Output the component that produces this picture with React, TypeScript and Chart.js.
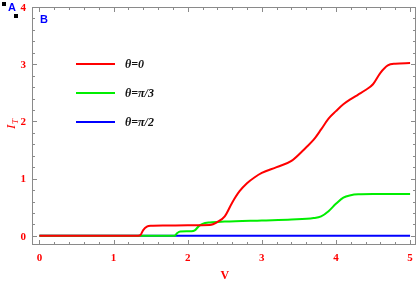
import React, { useEffect, useRef } from "react";
import { Chart, registerables } from "chart.js";

Chart.register(...registerables);

const redX = [0, 1.3, 1.36, 1.4, 1.45, 1.5, 1.7, 2.0, 2.3, 2.4, 2.5, 2.6, 2.7, 2.8, 2.9, 3.0, 3.2, 3.4, 3.6, 3.7, 3.8, 3.9, 4.0, 4.1, 4.2, 4.3, 4.4, 4.5, 4.6, 4.7, 4.8, 5.0];
const redY = [0, 0, 0.01, 0.1, 0.16, 0.175, 0.18, 0.185, 0.19, 0.24, 0.34, 0.58, 0.78, 0.92, 1.02, 1.1, 1.2, 1.31, 1.55, 1.68, 1.86, 2.05, 2.18, 2.3, 2.39, 2.47, 2.55, 2.65, 2.85, 2.98, 3.01, 3.02];

const greenX = [0, 1.82, 1.86, 1.9, 2.05, 2.1, 2.15, 2.2, 2.3, 2.5, 3.0, 3.4, 3.7, 3.8, 3.9, 4.0, 4.1, 4.2, 4.3, 4.5, 5.0];
const greenY = [0, 0, 0.05, 0.075, 0.08, 0.1, 0.17, 0.21, 0.235, 0.25, 0.27, 0.285, 0.31, 0.34, 0.43, 0.56, 0.67, 0.71, 0.725, 0.73, 0.73];

const blueX = [0, 5];
const blueY = [0, 0];

const seriesLabels = ["θ=0", "θ=π/3", "θ=π/2"];
const seriesColors = ["#ff0000", "#00ee00", "#0000ff"];

const xTicks = [0, 1, 2, 3, 4, 5];
const yTicks = [0, 1, 2, 3, 4];

const toPts = (xs: number[], ys: number[]) => xs.map((x, i) => ({ x, y: ys[i] }));

const tickFont = "bold 11px 'Liberation Serif', serif";
const clear = "rgba(0,0,0,0)";

const drawYLabels = (chart: any) => {
  const { ctx, chartArea: a } = chart;
  const ys = chart.scales.y;
  ctx.save();
  ctx.fillStyle = "#ff0000";
  ctx.font = tickFont;
  ctx.textAlign = "left";
  ctx.textBaseline = "middle";
  yTicks.forEach((v) => {
    const t = String(v);
    const w = ctx.measureText(t).width;
    ctx.fillText(t, a.left - 6 - w, ys.getPixelForValue(v) + 1);
  });
  ctx.restore();
};

const framePlugin = {
  id: "frame",
  afterDraw(chart: any) {
    const { ctx, chartArea: a } = chart;
    const xs = chart.scales.x;
    const ys = chart.scales.y;

    ctx.save();
    ctx.strokeStyle = "#8a8a8a";
    ctx.lineWidth = 1;
    ctx.strokeRect(a.left + 0.5, a.top + 0.5, a.right - a.left - 1, a.bottom - a.top - 1);
    ctx.beginPath();
    for (let v = 0; v <= 5.0001; v += 0.2) {
      const major = Math.abs(v - Math.round(v)) < 1e-6;
      const len = major ? 5 : 3;
      const px = Math.round(xs.getPixelForValue(v)) + 0.5;
      ctx.moveTo(px, a.bottom);
      ctx.lineTo(px, a.bottom - len);
      ctx.moveTo(px, a.top);
      ctx.lineTo(px, a.top + len);
    }
    for (let v = 0; v <= 4.0001; v += 0.2) {
      const major = Math.abs(v - Math.round(v)) < 1e-6;
      const len = major ? 5 : 3;
      const py = Math.round(ys.getPixelForValue(v)) + 0.5;
      ctx.moveTo(a.left, py);
      ctx.lineTo(a.left + len, py);
      ctx.moveTo(a.right, py);
      ctx.lineTo(a.right - len, py);
    }
    ctx.stroke();
    ctx.restore();

    ctx.save();
    const legY = [64, 93, 122];
    seriesLabels.forEach((lab, i) => {
      ctx.strokeStyle = seriesColors[i];
      ctx.lineWidth = 2;
      ctx.beginPath();
      ctx.moveTo(76, legY[i]);
      ctx.lineTo(115, legY[i]);
      ctx.stroke();
      ctx.fillStyle = "#111";
      ctx.font = "italic bold 12px 'Liberation Serif', serif";
      ctx.textBaseline = "middle";
      ctx.textAlign = "left";
      ctx.fillText(lab, 125, legY[i] + 1);
    });

    ctx.fillStyle = "#ff0000";
    ctx.font = "bold 12px 'Liberation Serif', serif";
    ctx.textAlign = "center";
    ctx.textBaseline = "middle";
    ctx.fillText("V", (xs.getPixelForValue(0) + xs.getPixelForValue(5)) / 2, 276);
    ctx.restore();

    ctx.save();
    ctx.fillStyle = "#ff0000";
    ctx.textBaseline = "middle";
    ctx.translate(12, 124);
    ctx.rotate(-Math.PI / 2);
    ctx.textAlign = "left";
    ctx.font = "italic 13px 'Liberation Serif', serif";
    ctx.fillText("I", -5, 0);
    ctx.font = "italic 9px 'Liberation Serif', serif";
    ctx.fillText("T", 0, 4);
    ctx.restore();

    drawYLabels(chart);

    // debug markers
    ctx.save();
    ctx.fillStyle = "#000";
    ctx.fillRect(2, 2, 4, 4);
    ctx.fillRect(14, 14, 4, 4);
    ctx.font = "bold 11px sans-serif";
    ctx.fillStyle = "#00f";
    ctx.textAlign = "left";
    ctx.textBaseline = "middle";
    ctx.fillText("A", 8, 8);
    ctx.fillText("B", 40, 20);
    ctx.restore();
  },
};

export default function App() {
  const ref = useRef<HTMLCanvasElement | null>(null);
  useEffect(() => {
    if (!ref.current) return;
    const mk = (xs: number[], ys: number[], i: number) => ({
      label: seriesLabels[i],
      data: toPts(xs, ys),
      borderColor: seriesColors[i],
      backgroundColor: seriesColors[i],
      borderWidth: 2,
      pointRadius: 0,
      fill: false,
      cubicInterpolationMode: "monotone" as const,
    });
    const chart = new Chart(ref.current, {
      type: "line",
      data: {
        datasets: [mk(redX, redY, 0), mk(greenX, greenY, 1), mk(blueX, blueY, 2)],
      },
      options: {
        animation: false,
        responsive: false,
        layout: { padding: { top: 7, right: 1 } },
        plugins: { legend: { display: false }, tooltip: { enabled: false } },
        scales: {
          x: {
            type: "linear",
            min: -0.1,
            max: 5.08,
            grid: { color: clear, drawTicks: false },
            border: { color: clear },
            afterBuildTicks: (axis: any) => {
              axis.ticks = xTicks.map((v) => ({ value: v }));
            },
            afterFit: (axis: any) => {
              axis.height = 40;
              axis.paddingLeft = 0;
              axis.paddingRight = 0;
            },
            ticks: {
              color: "#ff0000",
              padding: 7,
              maxRotation: 0,
              autoSkip: false,
              font: { family: "'Liberation Serif', serif", weight: "bold", size: 11 },
              callback: (v: any) => String(v),
            },
          },
          y: {
            type: "linear",
            min: -0.16,
            max: 4,
            grid: { color: clear },
            border: { color: clear },
            ticks: { display: false },
            afterFit: (axis: any) => {
              axis.width = 32;
              axis.paddingTop = 0;
              axis.paddingBottom = 0;
            },
          },
        },
      },
      plugins: [framePlugin],
    });
    return () => chart.destroy();
  }, []);
  return (
    <div style={{ position: "fixed", left: 0, top: 0, width: 417, height: 285, background: "#fff" }}>
      <canvas ref={ref} width={417} height={285} />
    </div>
  );
}
